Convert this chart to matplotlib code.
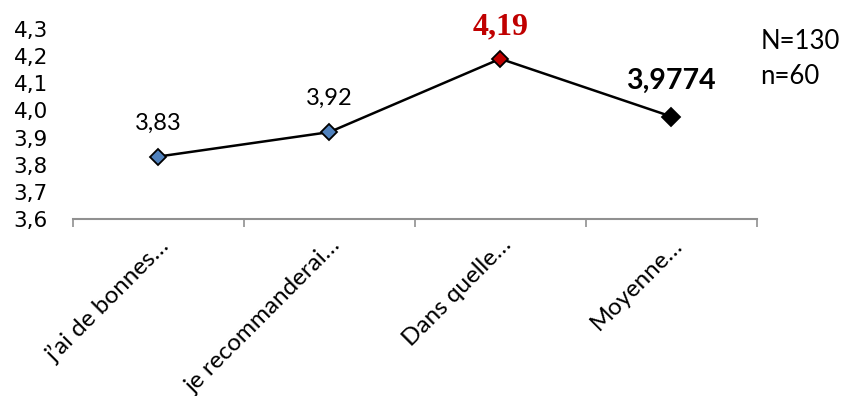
import matplotlib
matplotlib.use('Agg')
import matplotlib.pyplot as plt

categories = ["j\u2019ai de bonnes\u2026", "je recommanderai\u2026", "Dans quelle\u2026", "Moyenne\u2026"]
scores = [3.83, 3.92, 4.19, 3.9774]
score_labels = ["3,83", "3,92", "4,19", "3,9774"]
marker_colors = ["#4F81BD", "#4F81BD", "#C00000", "#000000"]
marker_sizes = [8, 8, 8, 9]
y_ticks = [3.6, 3.7, 3.8, 3.9, 4.0, 4.1, 4.2, 4.3]
sample_note = ["N=130", "n=60"]

fig = plt.figure(figsize=(8.42, 3.96), dpi=100)
ax = fig.add_axes([0.0867, 0.447, 0.812, 0.480])

x = list(range(len(categories)))
ax.plot(x, scores, color='black', lw=1.8, zorder=2)
for xi, yi, c, s in zip(x, scores, marker_colors, marker_sizes):
    ax.plot(xi, yi, marker='D', ms=s, mfc=c, mec='black', mew=1.3, zorder=3)

ax.set_xlim(-0.5, len(categories) - 0.5)
ax.set_ylim(3.6, 4.3)
ax.set_yticks(y_ticks)
ax.set_yticklabels([f"{v:.1f}".replace('.', ',') for v in y_ticks],
                   fontsize=15.5, family='DejaVu Sans')
ax.tick_params(axis='y', length=0, pad=18)

# tick marks sit on category boundaries, labels on category centres
ax.set_xticks([i - 0.5 for i in range(len(categories) + 1)])
ax.set_xticklabels([])
ax.tick_params(axis='x', which='major', direction='out', length=6, width=1.2, color='#909090')
ax.set_xticks(x, minor=True)
ax.set_xticklabels(categories, minor=True, rotation=45, rotation_mode='anchor',
                   ha='right', va='top', fontsize=17.5, family='Lato')
ax.tick_params(axis='x', which='minor', length=0, pad=11)

for side in ('left', 'right', 'top'):
    ax.spines[side].set_visible(False)
ax.spines['bottom'].set_color('#909090')
ax.spines['bottom'].set_linewidth(1.5)

# value labels above each point
ax.annotate(score_labels[0], (x[0], scores[0]), xytext=(0, 24), textcoords='offset points',
            ha='center', va='center', fontsize=17, family='Lato')
ax.annotate(score_labels[1], (x[1], scores[1]), xytext=(0, 24), textcoords='offset points',
            ha='center', va='center', fontsize=17, family='Lato')
ax.annotate(score_labels[2], (x[2], scores[2]), xytext=(0, 23), textcoords='offset points',
            ha='center', va='center', fontsize=23, family='Liberation Serif',
            fontweight='bold', color='#C00000')
ax.annotate(score_labels[3], (x[3], scores[3]), xytext=(0, 26), textcoords='offset points',
            ha='center', va='center', fontsize=20.5, family='Lato', fontweight='bold')

fig.text(0.903, 0.894, sample_note[0], ha='left', va='center', fontsize=18.5, family='Lato')
fig.text(0.903, 0.806, sample_note[1], ha='left', va='center', fontsize=18.5, family='Lato')

fig.savefig('out.png', dpi=100)
